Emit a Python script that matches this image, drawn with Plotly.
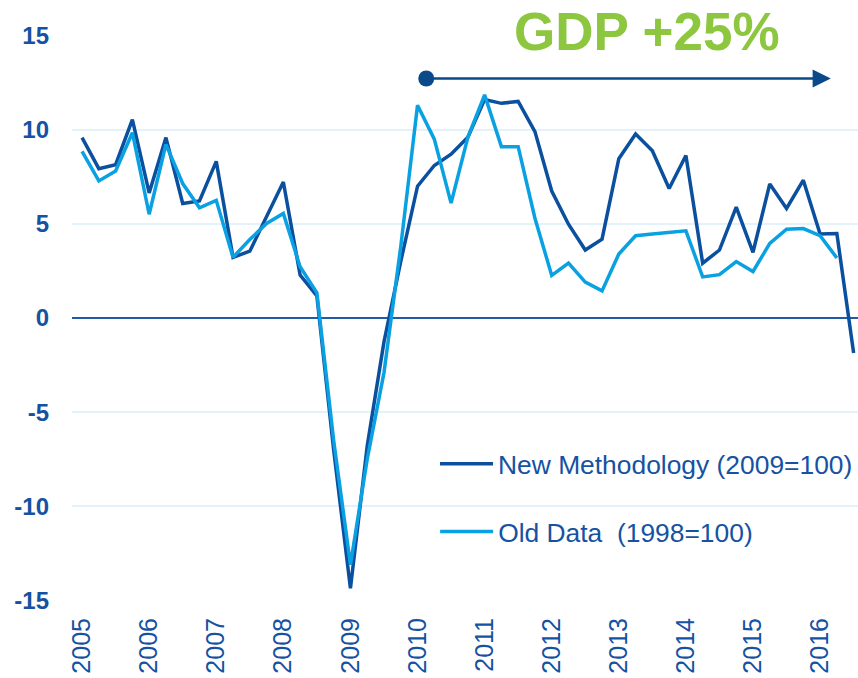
import plotly.graph_objects as go

# Quarterly GDP growth (% y/y), 2005Q1 onwards
quarter_x = [2005 + i / 4 for i in range(47)]

new_methodology = [9.58, 7.93, 8.14, 10.53, 6.64, 9.58, 6.08, 6.22, 8.32, 3.22, 3.55, 5.39,
                   7.22, 2.28, 1.17, -7.0, -14.36, -6.8, -1.27, 3.0, 7.0, 8.1, 8.7, 9.6,
                   11.6, 11.4, 11.5, 9.9, 6.74, 4.98, 3.61, 4.19, 8.46, 9.77, 8.88, 6.88,
                   8.63, 2.91, 3.61, 5.89, 3.49, 7.12, 5.82, 7.32, 4.46, 4.49, -1.86]

old_data = [8.85, 7.28, 7.81, 9.84, 5.51, 9.22, 7.14, 5.85, 6.25, 3.22, 4.17, 5.02,
            5.55, 2.72, 1.34, -6.5, -13.1, -7.5, -2.9, 3.8, 11.3, 9.5, 6.1, 9.6,
            11.85, 9.1, 9.1, 5.3, 2.26, 2.91, 1.91, 1.44, 3.40, 4.37, 4.46, 4.54,
            4.63, 2.18, 2.30, 3.0, 2.47, 3.96, 4.72, 4.75, 4.37, 3.19]

year_ticks = list(range(2005, 2017))
year_labels = [str(y) for y in year_ticks]
y_ticks = [-15, -10, -5, 0, 5, 10, 15]
y_labels = ["-15", "-10", "-5", "0", "5", "10", "15"]

arrow_start = 2010.13
arrow_end = 2016.16
arrow_level = 12.72

DARK = "#0B4F9F"
LIGHT = "#0AA1E2"
TEXT = "#1552A2"
FONT = "Arial, Liberation Sans, sans-serif"

fig = go.Figure()
fig.add_trace(go.Scatter(x=quarter_x, y=new_methodology, mode="lines",
                         name="New Methodology (2009=100)",
                         line=dict(color=DARK, width=3.5), legend="legend"))
fig.add_trace(go.Scatter(x=quarter_x[:len(old_data)], y=old_data, mode="lines",
                         name="Old Data  (1998=100)",
                         line=dict(color=LIGHT, width=3.5), legend="legend2"))
# start dot of the arrow
fig.add_trace(go.Scatter(x=[arrow_start], y=[arrow_level], mode="markers",
                         marker=dict(color="#0B4A8A", size=16), showlegend=False,
                         hoverinfo="skip"))

fig.add_annotation(x=arrow_end, y=arrow_level, ax=arrow_start, ay=arrow_level,
                   xref="x", yref="y", axref="x", ayref="y", text="",
                   showarrow=True, arrowhead=2, arrowsize=1.4, arrowwidth=2.6,
                   arrowcolor="#0B4A8A", standoff=0)

fig.add_annotation(x=0.731, y=1.007, xref="paper", yref="paper", text="<b>GDP +25%</b>",
                   showarrow=False, xanchor="center", yanchor="middle",
                   font=dict(family=FONT, size=53, color="#8DC63F"))

fig.update_layout(
    width=858, height=678,
    margin=dict(l=72, r=0, t=35, b=77),
    paper_bgcolor="white", plot_bgcolor="white",
    font=dict(family=FONT, color=TEXT),
    xaxis=dict(range=[2004.85, 2016.565], tickmode="array", tickvals=year_ticks,
               ticktext=year_labels, tickangle=-90, showgrid=False, zeroline=False,
               showline=False, ticks="", ticklabelstandoff=11,
               tickfont=dict(family=FONT, size=25, color=TEXT)),
    yaxis=dict(range=[-15.03, 15.03], tickmode="array", tickvals=y_ticks, ticktext=y_labels,
               showgrid=True, gridcolor="#E3F1FB", gridwidth=1.5,
               zeroline=True, zerolinecolor="#1F5BA8", zerolinewidth=2,
               showline=False, ticks="", ticklabelstandoff=22,
               tickfont=dict(family=FONT, size=24, color=TEXT, weight="bold")),
    legend=dict(x=0.462, y=0.242, xanchor="left", yanchor="middle",
                bgcolor="rgba(0,0,0,0)", itemwidth=53,
                font=dict(family=FONT, size=26.4, color=TEXT)),
    legend2=dict(x=0.462, y=0.122, xanchor="left", yanchor="middle",
                 bgcolor="rgba(0,0,0,0)", itemwidth=53,
                 font=dict(family=FONT, size=26.4, color=TEXT)),
    showlegend=True,
    hovermode=False,
)

fig.write_html("out.html", config={"displayModeBar": False},
               post_script="document.body.style.margin='0';document.body.style.overflow='hidden';")
